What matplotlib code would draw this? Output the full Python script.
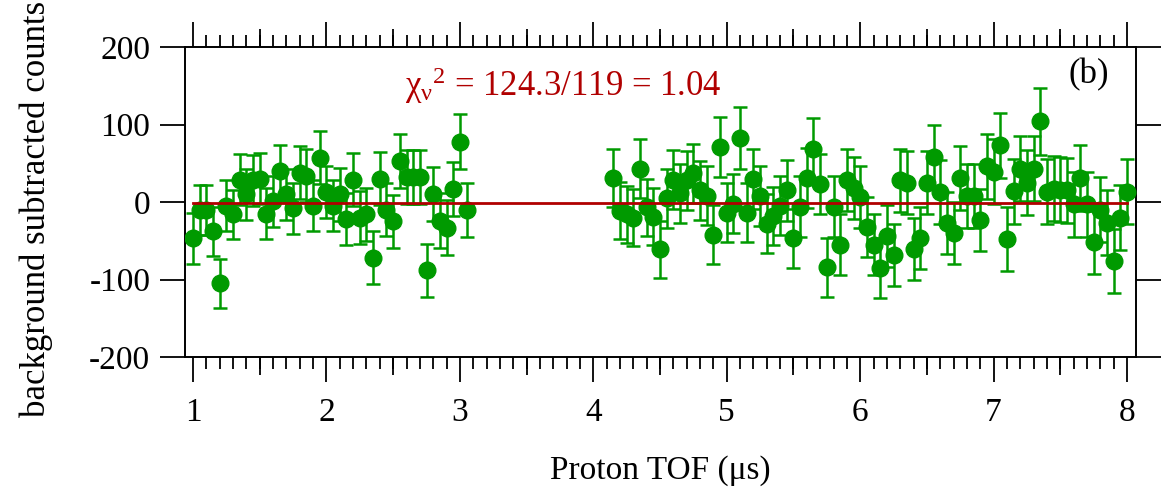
import numpy as np
import matplotlib
matplotlib.use("Agg")
from matplotlib import pyplot as plt
from matplotlib.ticker import MultipleLocator, FixedLocator, NullFormatter

plt.rcParams['font.family'] = ['Liberation Serif', 'DejaVu Serif']
plt.rcParams['mathtext.fontset'] = 'custom'
plt.rcParams['mathtext.rm'] = 'Liberation Serif'
plt.rcParams['mathtext.it'] = 'Liberation Serif'
plt.rcParams['axes.unicode_minus'] = False

## Données

x_gauche = np.round(np.arange(42) * 0.05 + 1.0, 3)     # 1.00 -> 3.05
y_gauche = [-47, -10, -10, -38, -105, -5, -16, 29, 10, 28,
            30, -15, 1, 40, 10, -8, 38, 34, -5, 57,
            13, -5, 10, -22, 29, -20, -16, -72, 30, -10,
            -25, 53, 32, 32, 32, -88, 10, -24, -33, 17,
            78, -10]
err_gauche = [33, 32, 32, 32, 32, 33, 32, 33, 33, 33,
              33, 33, 33, 34, 33, 33, 34, 34, 33, 34,
              34, 33, 34, 33, 34, 34, 34, 34, 34, 34,
              34, 35, 35, 35, 35, 34, 35, 35, 35, 35,
              36, 35]

x_droite = np.round(np.arange(78) * 0.05 + 4.15, 3)    # 4.15 -> 8.00
y_droite = [31, -11, -16, -20, 43, -7, -19, -61, 5, 29,
            11, 28, 37, 15, 8, -42, 71, -14, -2, 83,
            -14, 30, 8, -28, -18, -5, 15, -47, -6, 31,
            69, 23, -84, -6, -55, 29, 18, 6, -32, -55,
            -85, -44, -69, 28, 25, -60, -47, 25, 58, 13,
            -27, -40, 31, 8, 8, -23, 46, 39, 73, -48,
            14, 43, 25, 43, 104, 13, 17, 16, 15, -3,
            31, -3, -52, -10, -27, -76, -20, 13]
err_droite = [37, 37, 37, 37, 38, 37, 37, 37, 38, 38,
              38, 38, 38, 38, 38, 38, 39, 38, 38, 40,
              38, 39, 39, 38, 38, 38, 39, 38, 39, 39,
              40, 39, 38, 39, 39, 40, 40, 40, 39, 39,
              39, 40, 40, 41, 41, 40, 40, 41, 41, 41,
              40, 40, 41, 41, 41, 40, 42, 42, 42, 41,
              42, 42, 42, 42, 43, 42, 42, 42, 42, 42,
              42, 42, 41, 42, 42, 41, 42, 42]

fit_debut, fit_fin, fit_niveau = 1.0, 8.0, -1.0
texte_chi = r'$\chi_{\nu}{}^{2}$ = 124.3/119 = 1.04'

vert = '#009a00'
rouge = '#b00000'

## Figure

fig = plt.figure(figsize=(11.73, 4.98), dpi=100)
ax = fig.add_axes([185/1173, 1-357/498, (1136-185)/1173, (357-47)/498])

x = np.concatenate([x_gauche, x_droite])
y = np.concatenate([y_gauche, y_droite])
err = np.concatenate([err_gauche, err_droite])

ax.errorbar(x, y, yerr=err, fmt='o', color=vert, ecolor=vert, ms=12,
            elinewidth=1.8, capsize=5, capthick=1.8, zorder=3)
ax.plot([fit_debut, fit_fin], [fit_niveau, fit_niveau], color=rouge, lw=2, zorder=4)

ax.set_xlim(0.94, 8.067)
ax.set_ylim(-200, 200)

ax.xaxis.set_major_locator(MultipleLocator(1))
ax.xaxis.set_minor_locator(MultipleLocator(0.1))
ax.yaxis.set_major_locator(MultipleLocator(100))
ax.tick_params(axis='both', which='major', direction='out', length=18, width=1.3, labelsize=24)
ax.tick_params(axis='x', which='minor', direction='out', length=8.5, width=1.3)
ax.tick_params(axis='x', top=True, which='both', labeltop=False)
ax.tick_params(axis='y', right=True, labelright=False, pad=7)
ax.tick_params(axis='x', pad=11)
for s in ax.spines.values():
    s.set_linewidth(1.4)

# graduations moyennes tous les 0.5
for cote in ['bottom', 'top']:
    sec = ax.secondary_xaxis(cote)
    sec.xaxis.set_major_locator(FixedLocator(np.arange(1.5, 8, 1.0)))
    sec.xaxis.set_major_formatter(NullFormatter())
    sec.tick_params(direction='out', length=13, width=1.3)
    sec.spines[cote].set_visible(False)

ax.set_xlabel('Proton TOF (μs)', fontsize=24, labelpad=20)
ax.set_ylabel('background subtracted counts', fontsize=25)
ax.yaxis.set_label_coords(-0.139, 0.477)

fig.text(405/1173, 1-86/498, texte_chi, color=rouge, fontsize=25, va='center', ha='left')
ax.text(0.972, 0.91, '(b)', transform=ax.transAxes, fontsize=25, ha='right', va='center')

plt.savefig('out.png', dpi=100)
